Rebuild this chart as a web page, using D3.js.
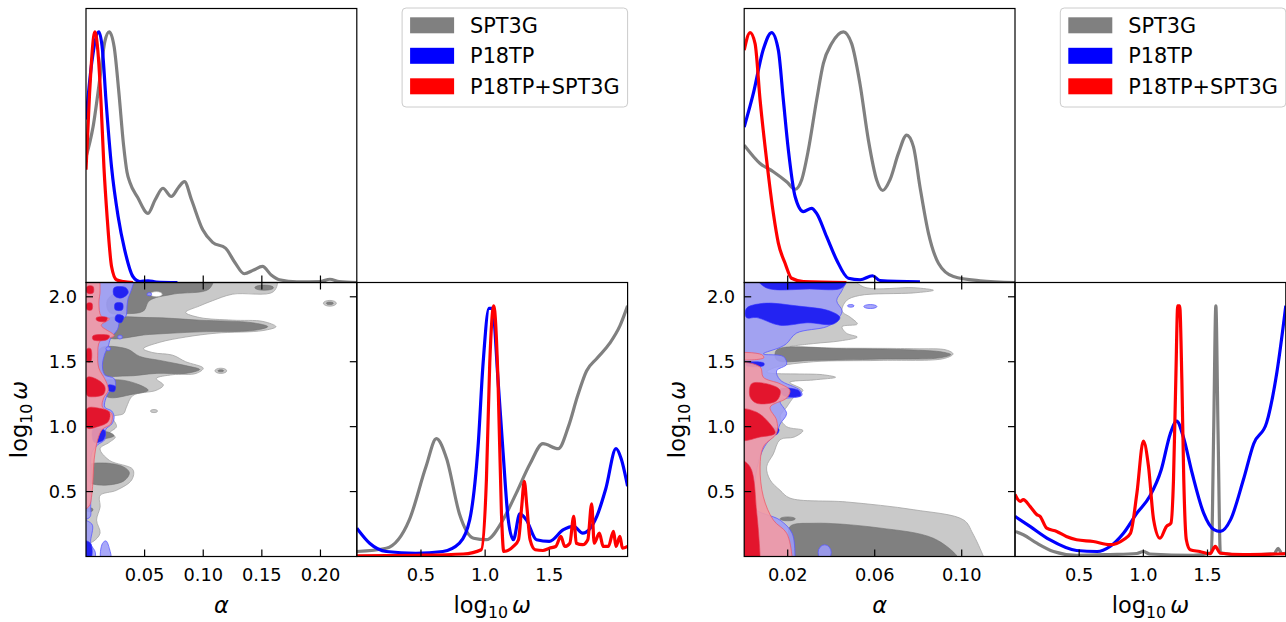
<!DOCTYPE html>
<html>
<head>
<meta charset="utf-8">
<script src="https://cdn.jsdelivr.net/npm/d3@7"></script>
<style>
  body { margin: 0; background: #fff; }
  svg { display: block; font-family: "DejaVu Sans", sans-serif; }
</style>
</head>
<body>
<svg id="plot" width="1286" height="622"></svg>
<script>
// ---- shared ----
const seriesNames = ["SPT3G", "P18TP", "P18TP+SPT3G"];
const seriesColors = ["#808080", "#0000ff", "#ff0000"];
const omegaTicksY = [0.5, 1.0, 1.5, 2.0];
const omegaTicksX = [0.5, 1.0, 1.5];

// ---- left triangle (A) ----
const alphaTicksA = [0.05, 0.10, 0.15, 0.20];
// normalised 1D posteriors of alpha
const alphaA_SPT = [[0,0.50],[0.006,0.62],[0.012,0.82],[0.016,0.96],[0.0198,1.0],[0.024,0.94],[0.028,0.76],[0.032,0.55],[0.035,0.44],[0.0374,0.40],[0.044,0.34],[0.0529,0.276],[0.059,0.33],[0.0656,0.376],[0.0727,0.343],[0.079,0.38],[0.084,0.402],[0.090,0.33],[0.0996,0.21],[0.108,0.16],[0.119,0.137],[0.127,0.08],[0.135,0.035],[0.143,0.05],[0.1505,0.064],[0.158,0.03],[0.165,0.011],[0.180,0.003],[0.200,0.004],[0.208,0.013],[0.216,0.004],[0.231,0.0]];
const alphaA_P18 = [[0,0.65],[0.005,0.88],[0.011,1.0],[0.014,0.93],[0.017,0.73],[0.0218,0.46],[0.0274,0.263],[0.033,0.13],[0.040,0.024],[0.046,0.004],[0.053,0.007],[0.060,0.002],[0.078,0.0]];
const alphaA_comb = [[0,0.45],[0.003,0.75],[0.0076,1.0],[0.010,0.93],[0.0127,0.73],[0.0153,0.46],[0.018,0.263],[0.0218,0.064],[0.026,0.011],[0.032,0.004],[0.040,0.0]];
// normalised 1D posteriors of log10 omega
const omegaA_SPT = [[0,0.02],[0.23,0.033],[0.41,0.147],[0.54,0.36],[0.62,0.47],[0.70,0.39],[0.80,0.17],[0.91,0.073],[1.01,0.067],[1.14,0.147],[1.24,0.25],[1.35,0.37],[1.45,0.45],[1.57,0.43],[1.65,0.52],[1.72,0.64],[1.79,0.74],[1.87,0.79],[1.97,0.85],[2.05,0.92],[2.11,1.0]];
const omegaA_P18 = [[0,0.113],[0.10,0.053],[0.23,0.02],[0.46,0.013],[0.67,0.02],[0.80,0.053],[0.88,0.147],[0.945,0.44],[0.984,0.77],[1.03,0.99],[1.057,0.99],[1.10,0.707],[1.14,0.413],[1.18,0.147],[1.22,0.067],[1.27,0.17],[1.32,0.147],[1.40,0.067],[1.50,0.06],[1.61,0.107],[1.69,0.12],[1.76,0.093],[1.87,0.16],[1.94,0.27],[2.02,0.43],[2.06,0.39],[2.11,0.28]];
const omegaA_comb = [[0,0.003],[0.46,0.005],[0.83,0.01],[0.97,0.027],[1.01,0.307],[1.036,0.773],[1.067,1.0],[1.10,0.707],[1.127,0.173],[1.145,0.02],[1.22,0.04],[1.26,0.067],[1.285,0.2],[1.305,0.30],[1.325,0.2],[1.35,0.067],[1.39,0.027],[1.45,0.024],[1.50,0.033],[1.55,0.04],[1.59,0.08],[1.62,0.04],[1.66,0.053],[1.69,0.16],[1.71,0.053],[1.76,0.047],[1.80,0.067],[1.83,0.21],[1.85,0.053],[1.89,0.093],[1.92,0.04],[1.96,0.04],[2.00,0.1],[2.02,0.04],[2.05,0.08],[2.07,0.033],[2.11,0.04]];
// 2D contours (alpha, log10 omega)
const contA_greyOuter = [
  [[-0.01,2.15],[0.162,2.15],[0.160,2.04],[0.125,2.02],[0.108,1.97],[0.097,1.93],[0.085,1.88],[0.097,1.84],[0.125,1.82],[0.151,1.81],[0.162,1.77],[0.151,1.74],[0.111,1.72],[0.085,1.69],[0.063,1.65],[0.049,1.60],[0.057,1.57],[0.074,1.55],[0.085,1.50],[0.100,1.45],[0.094,1.41],[0.074,1.40],[0.060,1.37],[0.066,1.32],[0.060,1.28],[0.040,1.24],[0.0345,1.15],[0.032,1.10],[0.023,1.075],[0.026,1.00],[0.020,0.95],[0.025,0.92],[0.020,0.88],[0.012,0.83],[0.020,0.74],[0.040,0.67],[0.039,0.59],[0.026,0.51],[0.012,0.47],[0.012,0.38],[0.009,0.28],[0.012,0.18],[0.006,0.115],[0.0,0.10],[-0.01,0.10]]
];
const ellA_greyOuter = [[0.208,1.95,0.0055,0.022],[0.115,1.43,0.005,0.02],[0.058,1.12,0.003,0.012]];
const contA_greyInner = [
  [[0.040,2.15],[0.108,2.15],[0.105,2.06],[0.074,2.02],[0.054,1.97],[0.049,1.89],[0.0345,1.87],[0.020,1.88],[0.018,1.97],[0.029,2.06]],
  [[0.015,1.82],[0.054,1.84],[0.097,1.82],[0.142,1.80],[0.155,1.77],[0.142,1.74],[0.097,1.73],[0.054,1.71],[0.018,1.69]],
  [[0.012,1.60],[0.0345,1.60],[0.046,1.54],[0.063,1.51],[0.085,1.47],[0.097,1.44],[0.085,1.41],[0.060,1.41],[0.0345,1.39],[0.012,1.41]],
  [[0.012,1.34],[0.029,1.36],[0.046,1.32],[0.053,1.28],[0.040,1.25],[0.018,1.23]],
  [[0.010,0.96],[0.020,0.955],[0.024,0.93],[0.012,0.91]],
  [[0.002,0.70],[0.015,0.72],[0.032,0.69],[0.037,0.645],[0.032,0.58],[0.012,0.55],[0.002,0.58]]
];
const ellA_greyInner = [[0.152,2.07,0.008,0.02],[0.003,0.36,0.003,0.015],[0.208,1.95,0.003,0.01],[0.115,1.43,0.0025,0.008]];
const ellA_holes = [[0.060,2.02,0.005,0.02]];
const contA_blueOuter = [
  [[-0.01,2.15],[0.040,2.15],[0.039,2.06],[0.036,1.99],[0.035,1.93],[0.034,1.85],[0.029,1.82],[0.027,1.75],[0.021,1.68],[0.019,1.62],[0.016,1.56],[0.014,1.47],[0.016,1.40],[0.024,1.37],[0.025,1.31],[0.020,1.27],[0.017,1.22],[0.016,1.15],[0.022,1.12],[0.024,1.07],[0.022,1.02],[0.017,0.98],[0.016,0.90],[0.010,0.86],[0.005,0.80],[0.004,0.60],[0.004,0.40],[0.003,0.30],[-0.01,0.30]],
  [[-0.01,0.28],[0.005,0.25],[0.004,0.10],[0.008,0.03],[0.006,-0.05],[-0.01,-0.05]],
  [[0.013,-0.02],[0.014,0.10],[0.017,0.12],[0.020,0.06],[0.021,-0.02]]
];
const ellA_blueOuter = [[0.029,1.69,0.002,0.015],[0.019,1.60,0.002,0.015],[0.054,2.02,0.002,0.012]];
const contA_blueInner = [
  [[0.024,2.07],[0.034,2.07],[0.036,2.03],[0.030,1.99],[0.024,2.01]],
  [[0.025,1.95],[0.031,1.95],[0.031,1.90],[0.025,1.90]],
  [[0.026,1.86],[0.032,1.85],[0.030,1.80],[0.025,1.82]],
  [[0.019,1.32],[0.025,1.31],[0.024,1.27],[0.019,1.28]],
  [[0.006,0.98],[0.016,0.97],[0.015,0.90],[0.007,0.88]],
  [[-0.002,0.12],[0.004,0.10],[0.004,-0.02],[-0.002,-0.02]]
];
const contA_redOuter = [
  [[-0.01,2.15],[0.010,2.15],[0.012,2.05],[0.011,1.95],[0.013,1.85],[0.020,1.83],[0.013,1.78],[0.024,1.70],[0.012,1.66],[0.010,1.55],[0.011,1.45],[0.017,1.35],[0.019,1.28],[0.015,1.22],[0.014,1.15],[0.022,1.10],[0.021,1.02],[0.014,0.98],[0.010,0.90],[0.007,0.75],[0.006,0.60],[0.005,0.48],[0.002,0.38],[-0.01,0.36]]
];
const contA_redInner = [
  [[0.001,1.14],[0.012,1.14],[0.020,1.11],[0.019,1.04],[0.010,1.00],[0.001,0.99]],
  [[0.001,1.38],[0.008,1.37],[0.016,1.31],[0.015,1.25],[0.006,1.23],[0.001,1.24]],
  [[0.009,1.84],[0.018,1.84],[0.017,1.81],[0.009,1.82]],
  [[0.006,1.70],[0.020,1.70],[0.018,1.67],[0.006,1.67]],
  [[0.001,2.08],[0.006,2.08],[0.006,2.03],[0.001,2.03]],
  [[0.001,1.60],[0.004,1.60],[0.004,1.50],[0.001,1.50]],
  [[0.001,1.95],[0.005,1.95],[0.005,1.90],[0.001,1.90]]
];

// ---- right triangle (B) ----
const alphaTicksB = [0.02, 0.06, 0.10];
const alphaB_SPT = [[0,0.548],[0.0073,0.475],[0.0134,0.442],[0.0195,0.402],[0.0234,0.372],[0.0264,0.409],[0.0295,0.529],[0.0333,0.728],[0.0364,0.874],[0.0402,0.953],[0.0456,1.0],[0.0494,0.953],[0.0532,0.794],[0.0571,0.568],[0.0609,0.409],[0.0637,0.367],[0.0670,0.409],[0.0709,0.515],[0.0747,0.588],[0.0778,0.542],[0.0808,0.382],[0.0847,0.197],[0.0893,0.077],[0.0962,0.024],[0.1084,0.007],[0.1245,0.0]];
const alphaB_P18 = [[0,0.62],[0.0042,0.754],[0.0088,0.93],[0.0126,0.997],[0.0157,0.927],[0.018,0.728],[0.0203,0.529],[0.0234,0.343],[0.0272,0.283],[0.031,0.296],[0.0333,0.276],[0.0379,0.183],[0.0425,0.09],[0.0479,0.017],[0.0533,0.011],[0.059,0.027],[0.0624,0.008],[0.0808,0.003]];
const alphaB_comb = [[0,0.927],[0.0027,0.997],[0.005,0.953],[0.0073,0.728],[0.0103,0.489],[0.0134,0.276],[0.0157,0.157],[0.0188,0.077],[0.0218,0.017],[0.0272,0.004],[0.047,0.0]];
const omegaB_SPT = [[0,0.10],[0.065,0.087],[0.17,0.053],[0.30,0.02],[0.48,0.005],[0.74,0.008],[0.95,0.012],[1.00,0.02],[1.05,0.01],[1.39,0.005],[1.53,0.015],[1.548,0.5],[1.565,1.0],[1.582,0.5],[1.60,0.015],[1.78,0.005],[2.02,0.011],[2.05,0.033],[2.08,0.011],[2.11,0.013]];
const omegaB_P18 = [[0,0.16],[0.117,0.12],[0.27,0.067],[0.48,0.024],[0.64,0.02],[0.74,0.04],[0.845,0.093],[0.95,0.173],[1.05,0.24],[1.14,0.347],[1.21,0.49],[1.26,0.54],[1.31,0.48],[1.38,0.333],[1.47,0.173],[1.55,0.107],[1.60,0.10],[1.68,0.147],[1.78,0.307],[1.86,0.45],[1.96,0.533],[2.04,0.733],[2.11,1.0]];
const omegaB_comb = [[0,0.247],[0.04,0.22],[0.065,0.227],[0.117,0.20],[0.17,0.167],[0.195,0.16],[0.247,0.113],[0.325,0.10],[0.40,0.08],[0.48,0.067],[0.61,0.06],[0.74,0.047],[0.845,0.067],[0.90,0.093],[0.95,0.253],[1.00,0.46],[1.04,0.36],[1.08,0.147],[1.13,0.073],[1.18,0.12],[1.215,0.133],[1.235,0.307],[1.253,0.707],[1.268,1.0],[1.283,1.0],[1.30,0.707],[1.315,0.307],[1.335,0.067],[1.365,0.027],[1.44,0.02],[1.52,0.011],[1.56,0.04],[1.60,0.013],[1.78,0.008],[2.11,0.011]];
const contB_greyOuter = [
  [[-0.005,2.15],[0.047,2.15],[0.056,2.07],[0.078,2.07],[0.087,2.05],[0.078,2.03],[0.053,2.01],[0.047,1.97],[0.045,1.89],[0.049,1.84],[0.052,1.79],[0.045,1.77],[0.047,1.72],[0.052,1.69],[0.044,1.66],[0.032,1.64],[0.021,1.615],[0.078,1.60],[0.093,1.59],[0.096,1.56],[0.092,1.525],[0.062,1.51],[0.032,1.50],[0.015,1.46],[0.0104,1.42],[0.036,1.40],[0.042,1.38],[0.032,1.36],[0.021,1.34],[0.027,1.28],[0.023,1.23],[0.0195,1.15],[0.0165,1.075],[0.0195,1.00],[0.027,0.97],[0.023,0.92],[0.0165,0.90],[0.0134,0.79],[0.0103,0.69],[0.0119,0.59],[0.0165,0.51],[0.021,0.45],[0.047,0.42],[0.078,0.36],[0.101,0.28],[0.105,0.18],[0.110,0.0],[0.111,-0.05],[-0.005,-0.05]]
];
const ellB_greyOuter = [];
const contB_greyInner = [
  [[0.0149,1.59],[0.047,1.60],[0.078,1.59],[0.091,1.575],[0.095,1.555],[0.090,1.53],[0.062,1.52],[0.032,1.51],[0.0149,1.515]],
  [[0.021,0.23],[0.032,0.256],[0.062,0.22],[0.087,0.14],[0.098,0.0],[0.099,-0.05],[0.022,-0.05],[0.021,0.10]]
];
const ellB_greyInner = [[0.020,0.29,0.0035,0.015]];
const ellB_holes = [];
const contB_blueOuter = [
  [[-0.005,2.15],[0.047,2.15],[0.045,2.05],[0.0425,1.97],[0.045,1.89],[0.0425,1.82],[0.038,1.77],[0.024,1.72],[0.0195,1.64],[0.0165,1.61],[0.0088,1.56],[0.018,1.54],[0.0195,1.48],[0.0149,1.43],[0.0165,1.36],[0.0257,1.28],[0.0265,1.24],[0.0165,1.20],[0.0195,1.10],[0.0165,1.02],[0.0149,0.95],[0.0103,0.87],[0.0073,0.77],[0.005,0.59],[0.0042,0.38],[0.0165,0.28],[0.022,0.18],[0.0234,0.0],[0.0234,-0.05],[-0.005,-0.05]]
];
const ellB_blueOuter = [[0.037,0.03,0.003,0.06],[0.049,1.93,0.0015,0.01],[0.058,1.925,0.003,0.015]];
const contB_blueInner = [
  [[0.006,2.15],[0.047,2.15],[0.045,2.07],[0.030,2.06],[0.010,2.07]],
  [[0.001,1.91],[0.009,1.95],[0.024,1.93],[0.0394,1.89],[0.044,1.84],[0.041,1.79],[0.029,1.80],[0.0165,1.78],[0.0058,1.84],[0.001,1.84]],
  [[0.0165,1.29],[0.025,1.28],[0.026,1.24],[0.018,1.24]],
  [[0.001,1.49],[0.009,1.49],[0.009,1.47],[0.001,1.47]],
  [[0.012,0.99],[0.016,0.98],[0.015,0.94],[0.012,0.95]]
];
const contB_redOuter = [
  [[-0.005,1.47],[0.0073,1.46],[0.0088,1.38],[0.0165,1.33],[0.021,1.28],[0.0195,1.22],[0.0119,1.15],[0.0149,1.05],[0.0149,0.95],[0.0088,0.845],[0.0073,0.69],[0.0088,0.46],[0.0134,0.28],[0.0195,0.18],[0.022,0.0],[0.022,-0.05],[-0.005,-0.05]],
  [[-0.005,1.56],[0.008,1.555],[0.009,1.53],[-0.005,1.525]]
];
const contB_redInner = [
  [[0.0034,1.33],[0.0103,1.33],[0.0165,1.28],[0.0149,1.20],[0.0058,1.18],[0.0027,1.23]],
  [[-0.002,1.13],[0.0058,1.11],[0.0119,1.02],[0.0142,0.95],[0.0073,0.92],[-0.002,0.90]],
  [[-0.002,0.74],[0.0027,0.69],[0.0058,0.33],[0.0073,0.0],[0.0073,-0.05],[-0.002,-0.05]]
];

// ---- drawing ----
const svg = d3.select("#plot");
const defs = svg.append("defs");
const layout = { top: 8.5, mid: 282.5, bottom: 556.5, w: 270.8 };
const pMax = 1.093;
const omegaMax = 2.11;
const tickLen = 7;
const tickFont = 17.8;
const labelFont = 22.5;

function logOmega(text, size) {
  text.append("tspan").text("log");
  text.append("tspan").attr("font-size", size * 0.7).attr("dy", size * 0.2).text("10");
  text.append("tspan").attr("dy", -size * 0.2).attr("dx", size * 0.18)
    .attr("font-style", "italic").text("ω");
}

function drawTriangle(t, id) {
  const x0 = t.left, w = layout.w;
  const scale = {
    alpha: d3.scaleLinear([0, t.alphaMax], [x0, x0 + w]),
    omegaY: d3.scaleLinear([0, omegaMax], [layout.bottom, layout.mid]),
    omegaX: d3.scaleLinear([0, omegaMax], [x0 + w, x0 + 2 * w]),
    pTop: d3.scaleLinear([0, pMax], [layout.mid, layout.top]),
    pSide: d3.scaleLinear([0, pMax], [layout.bottom, layout.mid]),
  };
  const panels = {
    top: [x0, layout.top, w, layout.mid - layout.top],
    joint: [x0, layout.mid, w, layout.bottom - layout.mid],
    side: [x0 + w, layout.mid, w, layout.bottom - layout.mid],
  };
  Object.entries(panels).forEach(([k, r]) => {
    defs.append("clipPath").attr("id", `clip-${id}-${k}`)
      .append("rect").attr("x", r[0]).attr("y", r[1]).attr("width", r[2]).attr("height", r[3]);
  });

  // joint contours
  const joint = svg.append("g").attr("clip-path", `url(#clip-${id}-joint)`);
  const shape = d3.line()
    .x((d) => scale.alpha(d[0]))
    .y((d) => scale.omegaY(d[1]))
    .curve(d3.curveCatmullRomClosed.alpha(0.5));
  const layer = (polys, ells, fill, opacity, stroke, sw) => {
    joint.append("g").selectAll("path").data(polys).join("path")
      .attr("d", shape).attr("fill", fill).attr("fill-opacity", opacity)
      .attr("stroke", stroke).attr("stroke-width", sw);
    joint.append("g").selectAll("ellipse").data(ells).join("ellipse")
      .attr("cx", (d) => scale.alpha(d[0]))
      .attr("cy", (d) => scale.omegaY(d[1]))
      .attr("rx", (d) => scale.alpha(d[2]) - scale.alpha(0))
      .attr("ry", (d) => scale.omegaY(0) - scale.omegaY(d[3]))
      .attr("fill", fill).attr("fill-opacity", opacity)
      .attr("stroke", stroke).attr("stroke-width", sw);
  };
  layer(t.greyOuter, t.ellGreyOuter, "#c9c9c9", 1, "#a5a5a5", 0.8);
  layer(t.greyInner, t.ellGreyInner, "#808080", 1, "#707070", 0.6);
  layer([], t.holes, "#ffffff", 1, "#a5a5a5", 0.6);
  layer(t.blueOuter, t.ellBlueOuter, "#9c9cf6", 0.88, "#5a5aff", 0.8);
  layer(t.blueInner, [], "#1818f2", 0.92, "#3030ff", 0.6);
  layer(t.redOuter, [], "#f29aa4", 0.9, "#f05a6a", 0.8);
  layer(t.redInner, [], "#e20a22", 0.92, "#e8304a", 0.6);

  // 1D marginals
  const topLine = d3.line().x((d) => scale.alpha(d[0])).y((d) => scale.pTop(d[1])).curve(d3.curveMonotoneX);
  const sideLine = d3.line().x((d) => scale.omegaX(d[0])).y((d) => scale.pSide(d[1])).curve(d3.curveMonotoneX);
  svg.append("g").attr("clip-path", `url(#clip-${id}-top)`)
    .selectAll("path").data(t.alphaCurves).join("path")
    .attr("d", topLine).attr("fill", "none")
    .attr("stroke", (d, i) => seriesColors[i]).attr("stroke-width", 3.2)
    .attr("stroke-linejoin", "round");
  svg.append("g").attr("clip-path", `url(#clip-${id}-side)`)
    .selectAll("path").data(t.omegaCurves).join("path")
    .attr("d", sideLine).attr("fill", "none")
    .attr("stroke", (d, i) => seriesColors[i]).attr("stroke-width", 3.2)
    .attr("stroke-linejoin", "round");

  // frames
  Object.values(panels).forEach((r) => {
    svg.append("rect").attr("x", r[0]).attr("y", r[1]).attr("width", r[2]).attr("height", r[3])
      .attr("fill", "none").attr("stroke", "#000").attr("stroke-width", 1.2);
  });

  // ticks
  const ticks = svg.append("g").attr("stroke", "#000").attr("stroke-width", 1.2);
  t.alphaTicks.forEach((v) => {
    const x = scale.alpha(v);
    ticks.append("line").attr("x1", x).attr("x2", x).attr("y1", layout.mid).attr("y2", layout.mid - tickLen);
    ticks.append("line").attr("x1", x).attr("x2", x).attr("y1", layout.mid).attr("y2", layout.mid + tickLen);
    ticks.append("line").attr("x1", x).attr("x2", x).attr("y1", layout.bottom).attr("y2", layout.bottom - tickLen);
  });
  omegaTicksY.forEach((v) => {
    const y = scale.omegaY(v);
    ticks.append("line").attr("x1", x0).attr("x2", x0 + tickLen).attr("y1", y).attr("y2", y);
    ticks.append("line").attr("x1", x0 + w).attr("x2", x0 + w - tickLen).attr("y1", y).attr("y2", y);
  });
  omegaTicksX.forEach((v) => {
    const x = scale.omegaX(v);
    ticks.append("line").attr("x1", x).attr("x2", x).attr("y1", layout.bottom).attr("y2", layout.bottom - tickLen);
  });

  // tick labels
  const labels = svg.append("g").attr("font-size", tickFont).attr("fill", "#000");
  const fa = d3.format(".2f"), fo = d3.format(".1f");
  labels.selectAll(".ta").data(t.alphaTicks).join("text")
    .attr("x", (d) => scale.alpha(d)).attr("y", 580.5).attr("text-anchor", "middle").text(fa);
  labels.selectAll(".to").data(omegaTicksX).join("text")
    .attr("x", (d) => scale.omegaX(d)).attr("y", 580.5).attr("text-anchor", "middle").text(fo);
  labels.selectAll(".ty").data(omegaTicksY).join("text")
    .attr("x", x0 - 9).attr("y", (d) => scale.omegaY(d)).attr("dy", "0.36em")
    .attr("text-anchor", "end").text(fo);

  // axis labels
  svg.append("text").attr("x", x0 + w / 2).attr("y", 613).attr("text-anchor", "middle")
    .attr("font-size", labelFont).attr("font-style", "italic").text("α");
  logOmega(svg.append("text").attr("x", x0 + 1.5 * w).attr("y", 613)
    .attr("text-anchor", "middle").attr("font-size", labelFont), labelFont);
  logOmega(svg.append("text")
    .attr("transform", `translate(${x0 - 59},${(layout.mid + layout.bottom) / 2}) rotate(-90)`)
    .attr("text-anchor", "middle").attr("font-size", labelFont), labelFont);

  // legend
  const lw = 225.5, lx = x0 + 2 * w - lw;
  const legend = svg.append("g");
  legend.append("rect").attr("x", lx).attr("y", 8).attr("width", lw).attr("height", 99)
    .attr("rx", 4).attr("fill", "#fff").attr("fill-opacity", 0.8)
    .attr("stroke", "#cccccc").attr("stroke-width", 1);
  seriesNames.forEach((name, i) => {
    const cy = 25.3 + i * 30.5;
    legend.append("rect").attr("x", lx + 8).attr("y", cy - 8).attr("width", 44).attr("height", 16)
      .attr("fill", seriesColors[i]);
    legend.append("text").attr("x", lx + 68).attr("y", cy).attr("dy", "0.36em")
      .attr("font-size", 20.8).text(name);
  });
}

drawTriangle({
  left: 86, alphaMax: 0.231, alphaTicks: alphaTicksA,
  alphaCurves: [alphaA_SPT, alphaA_P18, alphaA_comb],
  omegaCurves: [omegaA_SPT, omegaA_P18, omegaA_comb],
  greyOuter: contA_greyOuter, ellGreyOuter: ellA_greyOuter,
  greyInner: contA_greyInner, ellGreyInner: ellA_greyInner, holes: ellA_holes,
  blueOuter: contA_blueOuter, ellBlueOuter: ellA_blueOuter, blueInner: contA_blueInner,
  redOuter: contA_redOuter, redInner: contA_redInner,
}, "a");

drawTriangle({
  left: 744.2, alphaMax: 0.1245, alphaTicks: alphaTicksB,
  alphaCurves: [alphaB_SPT, alphaB_P18, alphaB_comb],
  omegaCurves: [omegaB_SPT, omegaB_P18, omegaB_comb],
  greyOuter: contB_greyOuter, ellGreyOuter: ellB_greyOuter,
  greyInner: contB_greyInner, ellGreyInner: ellB_greyInner, holes: ellB_holes,
  blueOuter: contB_blueOuter, ellBlueOuter: ellB_blueOuter, blueInner: contB_blueInner,
  redOuter: contB_redOuter, redInner: contB_redInner,
}, "b");
</script>
</body>
</html>
